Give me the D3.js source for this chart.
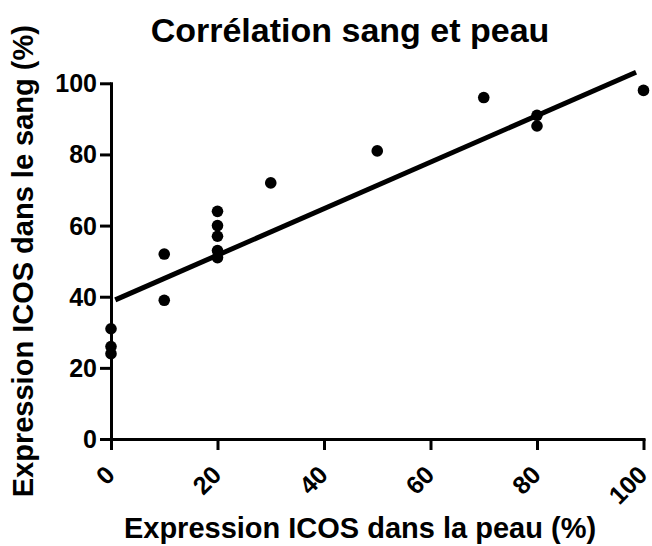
<!DOCTYPE html>
<html>
<head>
<meta charset="utf-8">
<script src="https://cdn.jsdelivr.net/npm/d3@7"></script>
<style>
  body { margin: 0; background: #fff; }
  text { font-family: "Liberation Sans", Arial, sans-serif; font-weight: bold; fill: #000; }
</style>
</head>
<body>
<svg id="chart" width="652" height="546"></svg>
<script>
// values
const skinPct = [0, 0, 0, 10, 10, 20, 20, 20, 20, 20, 30, 50, 70, 80, 80, 100];
const bloodPct = [31, 26, 24, 52, 39, 64, 60, 57, 53, 51, 72, 81, 96, 91, 88, 98];
const fitSlope = 0.654;
const fitIntercept = 38.6;
const fitRange = [0.8, 98.6];
const xTicks = [0, 20, 40, 60, 80, 100];
const yTicks = [0, 20, 40, 60, 80, 100];

const title = "Corrélation sang et peau";
const xTitle = "Expression ICOS dans la peau (%)";
const yTitle = "Expression ICOS dans le sang (%)";

const svg = d3.select("#chart");
const x = d3.scaleLinear().domain([0, 100]).range([111, 643.5]);
const y = d3.scaleLinear().domain([0, 100]).range([439, 83.3]);

// axes
const xAxis = svg.append("g")
  .attr("transform", `translate(0,${y(0)})`)
  .call(d3.axisBottom(x).tickValues(xTicks).tickSize(11).tickSizeOuter(0).tickFormat(""));
const yAxis = svg.append("g")
  .attr("transform", `translate(${x(0)},0)`)
  .call(d3.axisLeft(y).tickValues(yTicks).tickSize(11).tickSizeOuter(0).tickFormat(""));

[xAxis, yAxis].forEach((g) => {
  g.selectAll("path, line").attr("stroke", "#000").attr("stroke-width", 3);
  g.select(".domain").attr("stroke-linecap", "square");
});

// tick labels
svg.append("g")
  .selectAll("text")
  .data(yTicks)
  .join("text")
  .attr("x", 97)
  .attr("y", (d) => y(d))
  .attr("dy", "0.36em")
  .attr("text-anchor", "end")
  .style("font-size", "25px")
  .text((d) => d);

svg.append("g")
  .selectAll("text")
  .data(xTicks)
  .join("text")
  .attr("transform", (d) => `translate(${x(d) - 1},470) rotate(-45)`)
  .attr("dy", "0.36em")
  .attr("text-anchor", "end")
  .style("font-size", "25px")
  .text((d) => d);

// regression line
svg.append("line")
  .attr("x1", x(fitRange[0]))
  .attr("y1", y(fitIntercept + fitSlope * fitRange[0]))
  .attr("x2", x(fitRange[1]))
  .attr("y2", y(fitIntercept + fitSlope * fitRange[1]))
  .attr("stroke", "#000")
  .attr("stroke-width", 5);

// points
svg.append("g")
  .selectAll("circle")
  .data(d3.zip(skinPct, bloodPct))
  .join("circle")
  .attr("cx", (d) => x(d[0]))
  .attr("cy", (d) => y(d[1]))
  .attr("r", 5.8)
  .attr("fill", "#000");

// titles
svg.append("text")
  .attr("x", 350)
  .attr("y", 42)
  .attr("text-anchor", "middle")
  .style("font-size", "34px")
  .text(title);

svg.append("text")
  .attr("x", 360)
  .attr("y", 538)
  .attr("text-anchor", "middle")
  .style("font-size", "29px")
  .text(xTitle);

svg.append("text")
  .attr("transform", `translate(33,${(y(0) + y(100)) / 2}) rotate(-90)`)
  .attr("text-anchor", "middle")
  .style("font-size", "29px")
  .text(yTitle);
</script>
</body>
</html>
